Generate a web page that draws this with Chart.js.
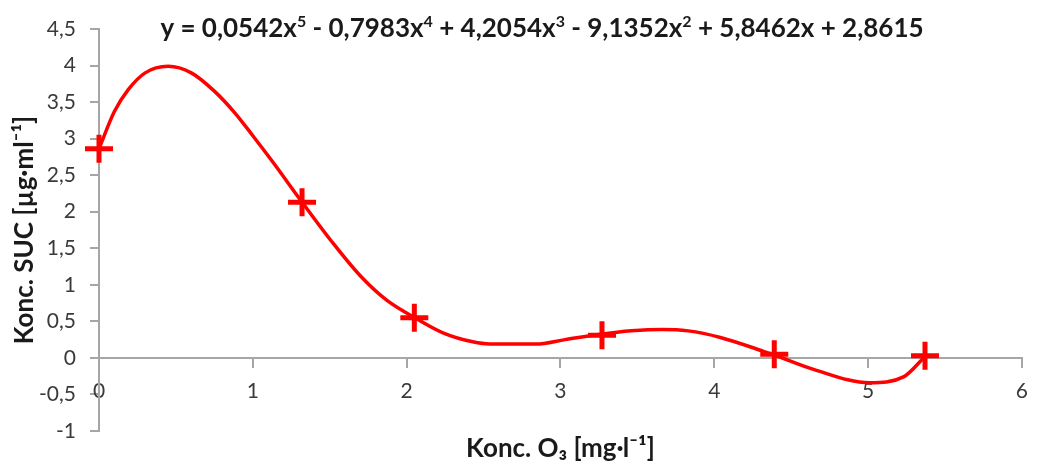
<!DOCTYPE html>
<html>
<head>
<meta charset="utf-8">
<script src="https://cdn.jsdelivr.net/npm/chart.js@4.4.1/dist/chart.umd.min.js"></script>
<style>
  html, body { margin: 0; background: #fff; }
  #wrap { width: 1040px; height: 470px; }
</style>
</head>
<body>
<div id="wrap"><canvas id="chart"></canvas></div>
<script>
// measured points
const measuredX = [0, 1.32, 2.05, 3.27, 4.39, 5.37];
const measuredY = [2.86, 2.13, 0.55, 0.31, 0.05, 0.03];

// polynomial trendline
const trendX = [0, 0.10, 0.19, 0.30, 0.45, 0.60, 0.75, 0.88, 1.00, 1.13, 1.31, 1.51, 1.70, 1.87, 2.07, 2.24, 2.43, 2.54, 2.84, 3.03, 3.25, 3.46, 3.66, 3.83, 4.04, 4.32, 4.39, 4.65, 5.01, 5.23, 5.37];
const trendY = [2.86, 3.37, 3.67, 3.90, 3.99, 3.90, 3.65, 3.36, 3.04, 2.68, 2.16, 1.60, 1.12, 0.79, 0.53, 0.34, 0.22, 0.19, 0.19, 0.25, 0.32, 0.37, 0.39, 0.37, 0.28, 0.09, 0.04, -0.16, -0.34, -0.26, 0.02];

const xTicks = [0, 1, 2, 3, 4, 5, 6];
const yTicks = [-1, -0.5, 0, 0.5, 1, 1.5, 2, 2.5, 3, 3.5, 4, 4.5];

// trendline equation, [text, superscript?]
const equation = [
  ["y = 0,0542x"], ["5", true], [" - 0,7983x"], ["4", true], [" + 4,2054x"], ["3", true],
  [" - 9,1352x"], ["2", true], [" + 5,8462x + 2,8615"]
];

const FONT = "Lato, 'Open Sans', sans-serif";
const RED = "#ff0000";
const AXIS = "#a6a6a6";

const zip = (xs, ys) => xs.map((x, i) => ({ x, y: ys[i] }));
const comma = v => String(v).replace(".", ",");

const equationLabel = {
  id: "equationLabel",
  afterDraw(chart) {
    const ctx = chart.ctx;
    const big = "bold 26px " + FONT, small = "bold 16px " + FONT;
    ctx.save();
    let total = 0;
    equation.forEach(([t, sup]) => { ctx.font = sup ? small : big; total += ctx.measureText(t).width; });
    let x = 542 - total / 2;
    const y = 37;
    ctx.fillStyle = "#1a1a1a";
    ctx.textBaseline = "alphabetic";
    equation.forEach(([t, sup]) => {
      ctx.font = sup ? small : big;
      ctx.fillText(t, x, sup ? y - 10 : y);
      x += ctx.measureText(t).width;
    });
    ctx.restore();
  }
};

new Chart(document.getElementById("chart"), {
  type: "scatter",
  data: {
    datasets: [
      {
        label: "trend",
        data: zip(trendX, trendY),
        showLine: true,
        borderColor: RED,
        borderWidth: 3.5,
        pointRadius: 0,
        cubicInterpolationMode: "monotone"
      },
      {
        label: "SUC",
        data: zip(measuredX, measuredY),
        clip: false,
        pointStyle: "cross",
        pointRadius: 14,
        pointBorderWidth: 5,
        pointBorderColor: RED,
        pointBackgroundColor: RED
      }
    ]
  },
  options: {
    responsive: true,
    maintainAspectRatio: false,
    animation: false,
    layout: { autoPadding: false, padding: { top: 29, right: 10, bottom: 39, left: 0 } },
    plugins: { legend: { display: false }, tooltip: { enabled: false } },
    scales: {
      x: {
        type: "linear",
        position: { y: 0 },
        min: xTicks[0],
        max: xTicks[xTicks.length - 1],
        afterBuildTicks: s => { s.ticks = xTicks.map(v => ({ value: v })); },
        afterFit: s => { s.height = 39; },
        border: { color: AXIS, width: 2 },
        grid: { drawOnChartArea: false, color: AXIS, lineWidth: 2, tickLength: 9 },
        ticks: { color: "#3a3a3a", font: { family: FONT, size: 21 }, padding: 12, callback: comma },
        title: {
          display: true,
          text: "Konc. O₃ [mg·l⁻¹]",
          color: "#1a1a1a",
          font: { family: FONT, size: 26, weight: "bold" },
          padding: { top: 0, bottom: -67 }
        }
      },
      y: {
        min: yTicks[0],
        max: yTicks[yTicks.length - 1],
        afterBuildTicks: s => { s.ticks = yTicks.map(v => ({ value: v })); },
        afterFit: s => { s.width = 99; },
        border: { color: AXIS, width: 2 },
        grid: { drawOnChartArea: false, color: AXIS, lineWidth: 2, tickLength: 9 },
        ticks: { color: "#3a3a3a", font: { family: FONT, size: 21 }, padding: 14, callback: comma },
        title: {
          display: true,
          text: "Konc. SUC [µg·ml⁻¹]",
          color: "#1a1a1a",
          font: { family: FONT, size: 26, weight: "bold" },
          padding: { top: 9, bottom: 0 }
        }
      }
    }
  },
  plugins: [equationLabel]
});
</script>
</body>
</html>
